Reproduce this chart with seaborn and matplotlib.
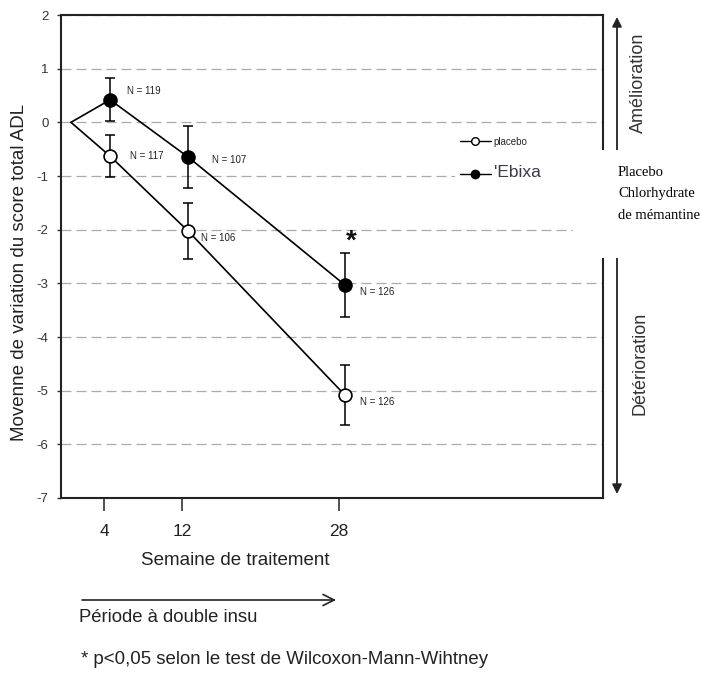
import matplotlib
matplotlib.use("Agg")
import matplotlib.pyplot as plt
from matplotlib.patches import Rectangle
from matplotlib.lines import Line2D
import seaborn as sns

# ---- data ----
weeks = [0, 4, 12, 28]
placebo_mean = [0.0, -0.63, -2.03, -5.08]
placebo_err = [0.0, 0.39, 0.52, 0.56]
ebixa_mean = [0.0, 0.42, -0.65, -3.03]
ebixa_err = [0.0, 0.40, 0.58, 0.60]
placebo_n = [117, 106, 126]
ebixa_n = [119, 107, 126]
xtick_labels = ["4", "12", "28"]
ytick_values = [2, 1, 0, -1, -2, -3, -4, -5, -6, -7]

sns.set_style("white")
plt.rcParams["font.family"] = ["Liberation Sans", "DejaVu Sans"]

W, H = 701, 685
fig = plt.figure(figsize=(W / 100, H / 100), dpi=100)
ax = fig.add_axes([61 / W, 1 - 498 / H, 542 / W, 483 / H])

# lines
sns.lineplot(x=weeks, y=placebo_mean, color="black", lw=1.2, ax=ax, zorder=4)
sns.lineplot(x=weeks, y=ebixa_mean, color="black", lw=1.2, ax=ax, zorder=4)
# error bars
ax.errorbar(weeks[1:], placebo_mean[1:], yerr=placebo_err[1:], fmt="none",
            ecolor="black", elinewidth=1.1, capsize=3.5, capthick=1.1, zorder=4)
ax.errorbar(weeks[1:], ebixa_mean[1:], yerr=ebixa_err[1:], fmt="none",
            ecolor="black", elinewidth=1.1, capsize=3.5, capthick=1.1, zorder=4)
# markers
sns.scatterplot(x=weeks[1:], y=placebo_mean[1:], s=85, marker="o", color="white",
                edgecolor="black", linewidth=1.2, ax=ax, zorder=6)
sns.scatterplot(x=weeks[1:], y=ebixa_mean[1:], s=90, marker="o", color="black",
                edgecolor="black", linewidth=1.0, ax=ax, zorder=6)

# N labels (offsets in points)
p_off = [(14, 0), (9, -5), (11, -5)]
e_off = [(12, 6), (17, -2), (11, -5)]
for w, m, n, off in zip(weeks[1:], placebo_mean[1:], placebo_n, p_off):
    ax.annotate(f"N = {n}", (w, m), xytext=off, textcoords="offset points",
                fontsize=7, va="center", ha="left", color="#222222", zorder=7)
for w, m, n, off in zip(weeks[1:], ebixa_mean[1:], ebixa_n, e_off):
    ax.annotate(f"N = {n}", (w, m), xytext=off, textcoords="offset points",
                fontsize=7, va="center", ha="left", color="#222222", zorder=7)
# significance star
ax.annotate("*", (weeks[-1], ebixa_mean[-1]), xytext=(4.5, 31), textcoords="offset points",
            fontsize=20, fontweight="bold", ha="center", va="center", color="#111111")

ax.set_xlim(-1.02, 54.4)
ax.set_ylim(-7, 2)
ax.set_yticks(ytick_values)
ax.set_yticklabels([str(v) for v in ytick_values], fontsize=9.5, color="#333333")
ax.set_xticks([w - 0.6 for w in weeks[1:]])
ax.set_xticklabels(xtick_labels, fontsize=12.5, color="#222222")
ax.tick_params(axis="x", bottom=True, direction="out", length=9, width=1.2, pad=10,
               color="#333333")
ax.tick_params(axis="y", left=True, direction="out", length=3, width=1, pad=6,
               color="#333333")

ax.yaxis.grid(True, linestyle=(0, (8, 4)), color="#aaaaaa", lw=0.9)
ax.xaxis.grid(False)
ax.set_axisbelow(True)
for s in ax.spines.values():
    s.set_visible(True)
    s.set_color("#222222")
    s.set_linewidth(1.5)

ax.set_xlabel("Semaine de traitement", fontsize=13.5, color="#222222")
ax.xaxis.set_label_coords((235 - 61) / 542, (498 - 552) / 483)
ax.set_ylabel("Movenne de variation du score total ADL", fontsize=13.5, color="#222222")
ax.yaxis.set_label_coords((28 - 61) / 542, (498 - 272) / 483)

# white area behind legend
ax.add_patch(Rectangle((455 / W, 1 - 190 / H), 120 / W, 60 / H, transform=fig.transFigure,
                       facecolor="white", edgecolor="none", zorder=3))
handles = [
    Line2D([], [], color="black", lw=1.0, marker="o", markersize=5.5,
           markerfacecolor="white", markeredgecolor="black"),
    Line2D([], [], color="black", lw=1.0, marker="o", markersize=6,
           markerfacecolor="black", markeredgecolor="black"),
]
leg = ax.legend(handles, ["placebo", "'Ebixa"], loc="upper left",
                bbox_to_anchor=(455 / W, 1 - 132 / H), bbox_transform=fig.transFigure,
                frameon=False, fontsize=7, handlelength=3.2, handletextpad=0.3,
                labelspacing=1.9, borderpad=0)
leg.get_texts()[1].set_fontsize(12.5)
leg.get_texts()[1].set_color("#3a3a48")

# right-hand arrow
ax.annotate("", xy=(617, H - 17), xytext=(617, H - 494), xycoords="figure pixels",
            textcoords="figure pixels",
            arrowprops=dict(arrowstyle="<|-|>", color="#222222", lw=1.3,
                            mutation_scale=14, shrinkA=0, shrinkB=0),
            annotation_clip=False)

fig.text(638 / W, 1 - 83 / H, "Amélioration", rotation=90, ha="center", va="center",
         fontsize=13, color="#333333")
fig.text(640 / W, 1 - 363 / H, "Détérioration", rotation=90, ha="center", va="center",
         fontsize=13, color="#333333")

# overlay box with serif caption
fig.patches.append(Rectangle((573 / W, 1 - 258 / H), (W - 573) / W, 108 / H,
                             transform=fig.transFigure, facecolor="white",
                             edgecolor="none", zorder=10))
fig.text(618 / W, 1 - 166 / H, "Placebo\nChlorhydrate\nde mémantine", ha="left", va="top",
         fontsize=10.5, linespacing=1.85, family=["Liberation Serif", "DejaVu Serif"],
         color="black", zorder=11)

# double-blind arrow
ax.annotate("", xy=(336, H - 600), xytext=(82, H - 600), xycoords="figure pixels",
            textcoords="figure pixels",
            arrowprops=dict(arrowstyle="->", color="#222222", lw=1.2,
                            mutation_scale=20, shrinkA=0, shrinkB=0),
            annotation_clip=False)
fig.text(79 / W, 1 - 617 / H, "Période à double insu", ha="left", va="center",
         fontsize=13.3, color="#222222")
fig.text(81 / W, 1 - 660 / H, "* p<0,05 selon le test de Wilcoxon-Mann-Wihtney",
         ha="left", va="center", fontsize=13.4, color="#222222")

fig.savefig("out.png", dpi=100)
